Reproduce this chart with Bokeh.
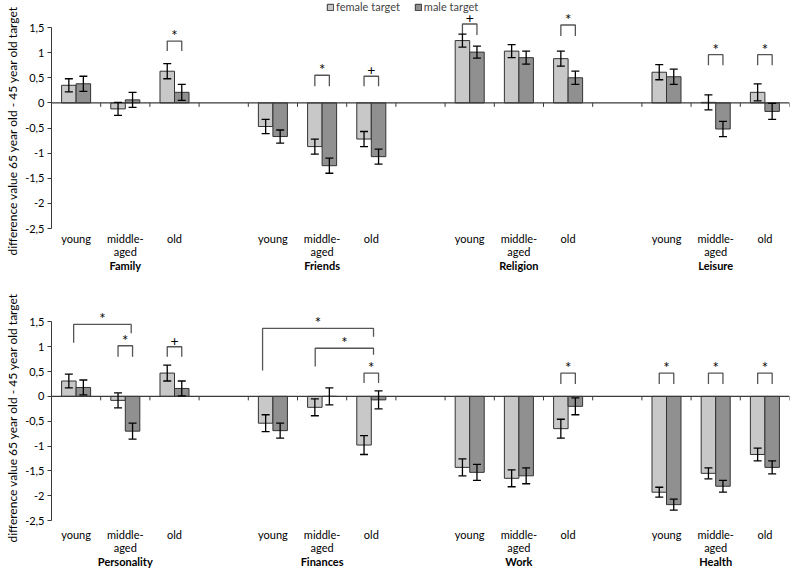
from bokeh.plotting import figure
from bokeh.models import (Range1d, FixedTicker, LinearAxis, Whisker, ColumnDataSource,
                          Span, Legend, LegendItem, TeeHead, Title)
from bokeh.layouts import column
from bokeh.embed import file_html
from bokeh.resources import INLINE
from bokeh.core.properties import value

# ---------------- data ----------------
age_groups = ["young", "middle-\naged", "old"]
top_domains = ["Family", "Friends", "Religion", "Leisure"]
bottom_domains = ["Personality", "Finances", "Work", "Health"]

y_ticks = [-2.5, -2, -1.5, -1, -0.5, 0, 0.5, 1, 1.5]
y_tick_labels = ["-2,5", "-2", "-1,5", "-1", "-0,5", "0", "0,5", "1", "1,5"]
y_title = "difference value 65 year old - 45 year old target"

# top panel (Family, Friends, Religion, Leisure) x (young, middle-aged, old)
top_female = [0.35, -0.12, 0.63, -0.47, -0.87, -0.72, 1.24, 1.03, 0.88, 0.61, 0.01, 0.21]
top_female_err = [0.13, 0.13, 0.15, 0.14, 0.15, 0.15, 0.13, 0.13, 0.15, 0.15, 0.15, 0.17]
top_male = [0.38, 0.06, 0.21, -0.67, -1.25, -1.07, 1.01, 0.90, 0.50, 0.52, -0.52, -0.17]
top_male_err = [0.15, 0.15, 0.16, 0.13, 0.15, 0.15, 0.12, 0.13, 0.13, 0.15, 0.15, 0.16]

# bottom panel (Personality, Finances, Work, Health)
bot_female = [0.31, -0.08, 0.47, -0.54, -0.22, -0.98, -1.43, -1.65, -0.65, -1.93, -1.55, -1.17]
bot_female_err = [0.14, 0.15, 0.16, 0.17, 0.17, 0.19, 0.17, 0.17, 0.19, 0.10, 0.11, 0.13]
bot_male = [0.18, -0.70, 0.16, -0.69, 0.00, -0.07, -1.53, -1.60, -0.20, -2.18, -1.81, -1.43]
bot_male_err = [0.15, 0.16, 0.15, 0.15, 0.17, 0.18, 0.16, 0.16, 0.17, 0.11, 0.12, 0.13]

# significance markers between female and male bar of one cell: (cell index, label)
top_sig_cells = [2, 4, 5, 6, 8, 10, 11]
top_sig_labels = ["*", "*", "+", "+", "*", "*", "*"]
top_sig_top = [1.23, 0.55, 0.53, 1.57, 1.55, 0.96, 0.96]
top_sig_leg = [1.03, 0.33, 0.33, 1.35, 1.33, 0.75, 0.75]

bot_sig_cells = [1, 2, 5, 8, 9, 10, 11]
bot_sig_labels = ["*", "+", "*", "*", "*", "*", "*"]
bot_sig_top = [1.02, 1.00, 0.47, 0.47, 0.47, 0.47, 0.47]
bot_sig_leg = [0.80, 0.80, 0.27, 0.25, 0.25, 0.25, 0.25]

# comparisons across age groups (bottom panel): from cell, to cell, label
bot_long_from = [0, 3, 4]
bot_long_to = [1, 5, 5]
bot_long_labels = ["*", "*", "*"]
bot_long_from_off = [-0.05, -0.21, -0.14]
bot_long_to_off = [0.12, 0.045, 0.045]
bot_long_top = [1.45, 1.37, 0.97]
bot_long_leg_from = [1.08, 0.52, 0.60]
bot_long_leg_to = [1.27, 1.20, 0.84]

# ---------------- style ----------------
FONT = "Lato"
F_COL = "#c8c8c8"
M_COL = "#909090"
EDGE = "#333333"
BRK = "#555555"
BAR_W = 0.295
SCALE = 50.25  # px per data unit


def cell_center(i):
    g, s = divmod(i, 3)
    return 4 * g + s


def make_panel(domains, fv, fe, mv, me, sig_cells, sig_labels, sig_top, sig_leg,
               long_spec, height, bottom_border, legend, title_offset, sub_standoff,
               grp_standoff):
    frame_h = height - bottom_border
    y_end = -2.5 + frame_h / SCALE
    p = figure(width=791, height=height,
               x_range=Range1d(-0.5, 14.5), y_range=Range1d(-2.5, y_end),
               output_backend="svg", toolbar_location=None, x_axis_location=None,
               min_border_left=47, min_border_right=2, min_border_top=0,
               min_border_bottom=bottom_border,
               background_fill_color="white", border_fill_color="white")
    p.grid.visible = False
    p.outline_line_color = None

    centers = [cell_center(i) for i in range(len(fv))]
    fx = [c - BAR_W / 2 for c in centers]
    mx = [c + BAR_W / 2 for c in centers]

    rf = p.vbar(x=fx, top=fv, bottom=0, width=BAR_W, fill_color=F_COL,
                line_color=EDGE, line_width=1)
    rm = p.vbar(x=mx, top=mv, bottom=0, width=BAR_W, fill_color=M_COL,
                line_color=EDGE, line_width=1)

    # zero line with tick marks at cell boundaries
    p.add_layout(Span(location=0, dimension="width", line_color="#3a3a3a", line_width=1.2))
    bounds = [k - 0.5 for k in range(1, 16)]
    p.segment(x0=bounds, x1=bounds, y0=[0] * len(bounds), y1=[-0.08] * len(bounds),
              line_color="#3a3a3a", line_width=1)

    # error bars
    src = ColumnDataSource(dict(
        x=fx + mx,
        upper=[v + e for v, e in zip(fv, fe)] + [v + e for v, e in zip(mv, me)],
        lower=[v - e for v, e in zip(fv, fe)] + [v - e for v, e in zip(mv, me)],
    ))
    w = Whisker(source=src, base="x", upper="upper", lower="lower", dimension="height",
                line_color="black", line_width=1.3, level="overlay",
                upper_head=TeeHead(size=8, line_color="black", line_width=1.3),
                lower_head=TeeHead(size=8, line_color="black", line_width=1.3))
    p.add_layout(w)

    # significance brackets
    xs, ys = [], []
    star_x, star_y, plus_x, plus_y = [], [], [], []

    def add_label(lab, x, y):
        if lab == "+":
            plus_x.append(x)
            plus_y.append(y)
        else:
            star_x.append(x)
            star_y.append(y)

    for c, lab, t, l in zip(sig_cells, sig_labels, sig_top, sig_leg):
        x1 = cell_center(c) - BAR_W / 2
        x2 = cell_center(c) + BAR_W / 2
        xs.append([x1, x1, x2, x2])
        ys.append([l, t, t, l])
        add_label(lab, (x1 + x2) / 2, t)
    if long_spec is not None:
        for a, b, lab, oa, ob, t, la, lb in zip(*long_spec):
            x1 = cell_center(a) + oa
            x2 = cell_center(b) + ob
            xs.append([x1, x1, x2, x2])
            ys.append([la, t, t, lb])
            add_label(lab, (x1 + x2) / 2, t)
    p.multi_line(xs=xs, ys=ys, line_color=BRK, line_width=1.3)
    if star_x:
        p.text(x=star_x, y=star_y, text=["*"] * len(star_x), text_align="center",
               text_baseline="bottom", y_offset=3, text_font=value(FONT),
               text_font_size="15px", text_color="black")
    if plus_x:
        p.text(x=plus_x, y=plus_y, text=["+"] * len(plus_x), text_align="center",
               text_baseline="bottom", y_offset=-1, text_font=value(FONT),
               text_font_size="14px", text_color="black")

    # y axis
    ya = p.yaxis[0]
    ya.ticker = FixedTicker(ticks=y_ticks)
    ya.major_label_overrides = dict(zip(y_ticks, y_tick_labels))
    ya.bounds = (-2.5, 1.5)
    ya.major_label_text_font = FONT
    ya.major_label_text_font_size = "11px"
    ya.major_label_text_color = "black"
    ya.major_label_standoff = 3
    ya.major_tick_out = 4
    ya.major_tick_in = 0
    ya.minor_tick_out = 0
    ya.minor_tick_in = 0
    ya.axis_line_color = "#3a3a3a"
    ya.major_tick_line_color = "#3a3a3a"

    # y title (vertical), starting a little below the frame bottom
    p.add_layout(Title(text=y_title, align="left", offset=title_offset, standoff=5,
                       text_font=FONT, text_font_size="12px", text_font_style="normal",
                       text_color="black"), "left")

    # category labels
    sub_axis = LinearAxis(
        ticker=FixedTicker(ticks=centers),
        major_label_overrides={c: age_groups[i % 3] for i, c in enumerate(centers)},
        axis_line_alpha=0, major_tick_line_alpha=0, minor_tick_line_alpha=0,
        major_tick_out=0, major_tick_in=0, minor_tick_out=0, minor_tick_in=0,
        major_label_standoff=sub_standoff, major_label_text_font=FONT,
        major_label_text_line_height=1.0,
        major_label_text_font_size="11px", major_label_text_color="black")
    p.add_layout(sub_axis, "below")
    gcent = [4 * g + 1 for g in range(len(domains))]
    grp_axis = LinearAxis(
        ticker=FixedTicker(ticks=gcent),
        major_label_overrides={c: d for c, d in zip(gcent, domains)},
        axis_line_alpha=0, major_tick_line_alpha=0, minor_tick_line_alpha=0,
        major_tick_out=0, major_tick_in=0, minor_tick_out=0, minor_tick_in=0,
        major_label_standoff=grp_standoff, major_label_text_font=FONT,
        major_label_text_font_style="bold",
        major_label_text_font_size="11px", major_label_text_color="black")
    p.add_layout(grp_axis, "below")

    if legend:
        lg = Legend(items=[LegendItem(label="female target", renderers=[rf]),
                           LegendItem(label="male target", renderers=[rm])],
                    location=(275, frame_h - 13), orientation="horizontal",
                    border_line_alpha=0, background_fill_alpha=0,
                    glyph_width=8, glyph_height=8, label_text_font=FONT,
                    label_text_font_size="11px", label_standoff=2, spacing=14,
                    padding=0, margin=0, label_height=11)
        p.add_layout(lg)
    return p


p1 = make_panel(top_domains, top_female, top_female_err, top_male, top_male_err,
                top_sig_cells, top_sig_labels, top_sig_top, top_sig_leg,
                None, 276, 48, True, -27, 3, -2)
p2 = make_panel(bottom_domains, bot_female, bot_female_err, bot_male, bot_male_err,
                bot_sig_cells, bot_sig_labels, bot_sig_top, bot_sig_leg,
                (bot_long_from, bot_long_to, bot_long_labels, bot_long_from_off,
                 bot_long_to_off, bot_long_top, bot_long_leg_from, bot_long_leg_to),
                294, 47, False, -22, 7, -2)

layout = column(p1, p2, spacing=0)
open("out.html", "w").write(file_html(layout, INLINE))
